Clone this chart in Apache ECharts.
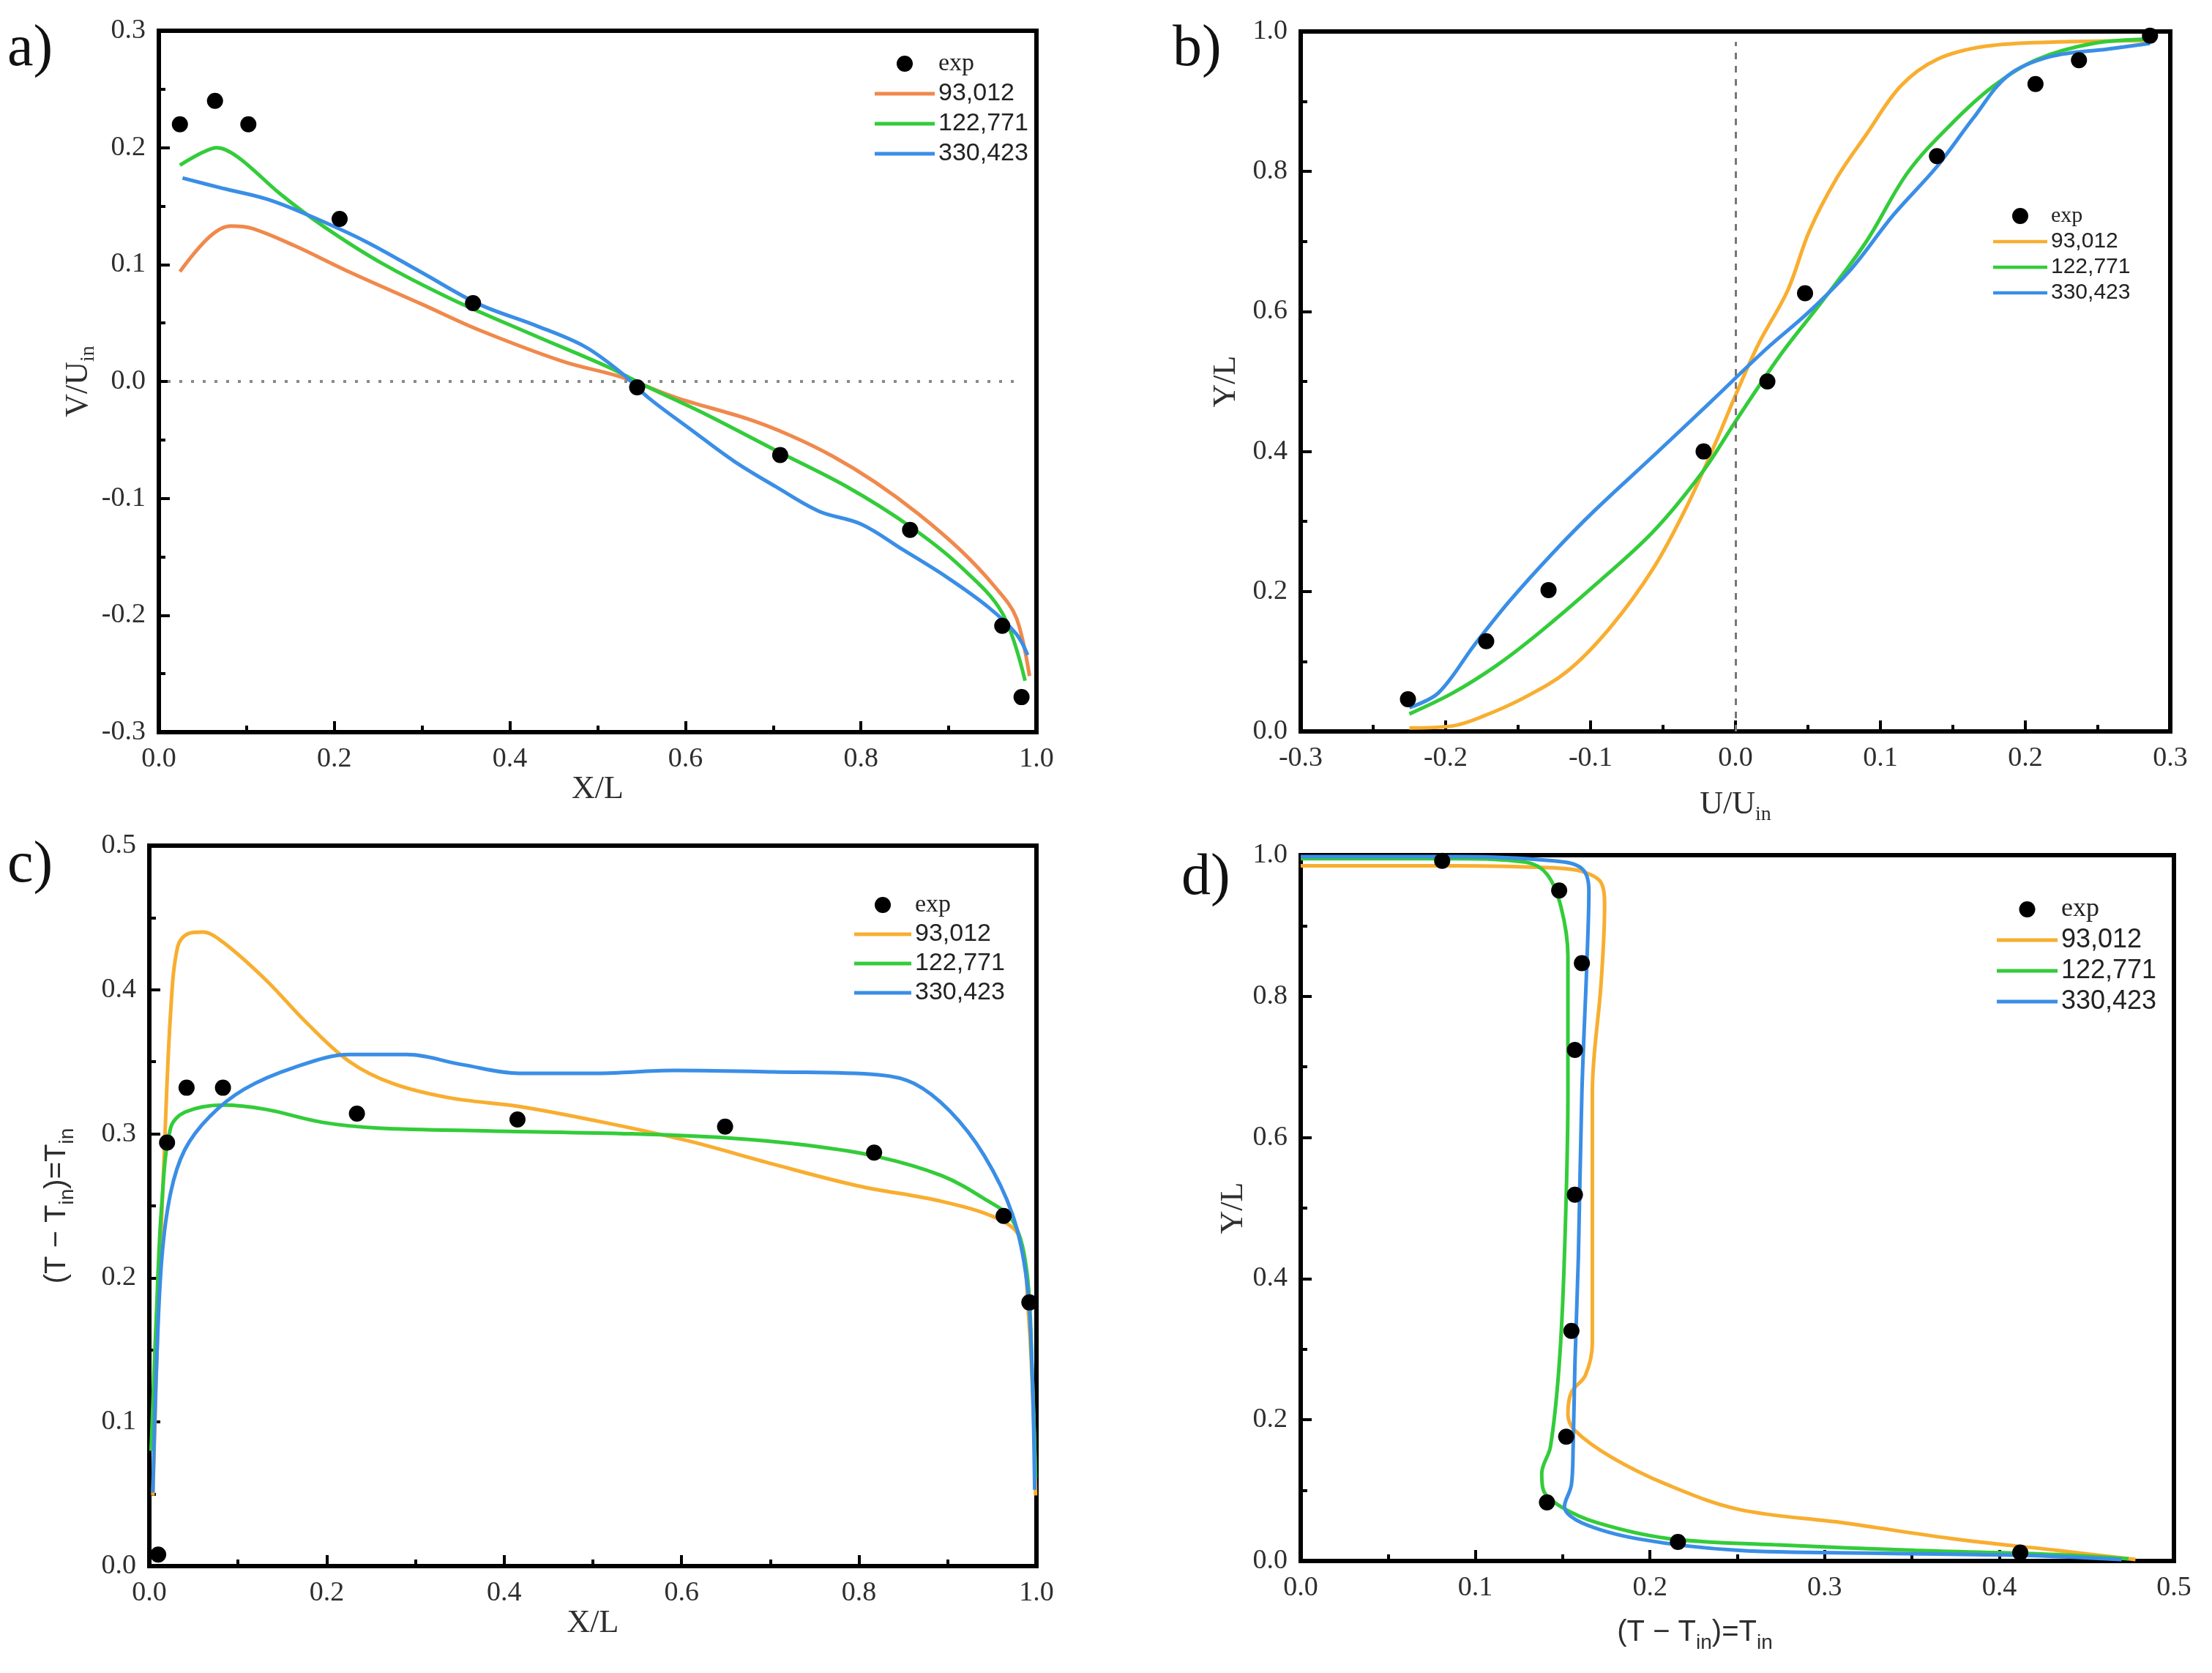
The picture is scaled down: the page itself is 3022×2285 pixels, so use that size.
<!DOCTYPE html>
<html>
<head>
<meta charset="utf-8">
<script src="https://cdn.jsdelivr.net/npm/echarts@6/dist/echarts.min.js"></script>
<style>html,body{margin:0;padding:0;background:#fff}#c{width:3022px;height:2285px}</style>
</head>
<body>
<div id="c"></div>
<script>
// ---------- Panel a: V/Uin vs X/L ----------
const aExp = [[0.024,0.22],[0.064,0.24],[0.102,0.22],[0.206,0.139],[0.358,0.067],[0.545,-0.005],[0.708,-0.063],[0.856,-0.127],[0.961,-0.209],[0.983,-0.27]];
const a93012 = [[0.024,0.094],[0.058,0.124],[0.082,0.133],[0.106,0.131],[0.155,0.116],[0.219,0.093],[0.3,0.066],[0.365,0.044],[0.461,0.017],[0.526,0.004],[0.59,-0.014],[0.671,-0.032],[0.719,-0.046],[0.768,-0.064],[0.816,-0.086],[0.865,-0.113],[0.913,-0.144],[0.953,-0.176],[0.977,-0.202],[0.992,-0.252]];
const a122771 = [[0.024,0.185],[0.05,0.196],[0.066,0.2],[0.09,0.192],[0.139,0.16],[0.187,0.133],[0.252,0.102],[0.332,0.071],[0.429,0.039],[0.51,0.013],[0.558,-0.005],[0.623,-0.028],[0.703,-0.059],[0.784,-0.09],[0.856,-0.124],[0.913,-0.158],[0.961,-0.198],[0.987,-0.256]];
const a330423 = [[0.027,0.174],[0.074,0.165],[0.123,0.156],[0.171,0.142],[0.235,0.12],[0.3,0.093],[0.365,0.066],[0.429,0.048],[0.485,0.03],[0.526,0.008],[0.558,-0.014],[0.606,-0.041],[0.655,-0.068],[0.703,-0.09],[0.752,-0.111],[0.8,-0.122],[0.848,-0.144],[0.897,-0.167],[0.945,-0.193],[0.977,-0.216],[0.99,-0.234]];

// ---------- Panel b: Y/L vs U/Uin ----------
const bExp = [[-0.226,0.046],[-0.172,0.129],[-0.129,0.202],[-0.022,0.4],[0.022,0.5],[0.048,0.626],[0.139,0.822],[0.207,0.925],[0.237,0.959],[0.286,0.994]];
const b93012 = [[-0.225,0.005],[-0.195,0.008],[-0.175,0.021],[-0.146,0.048],[-0.116,0.086],[-0.087,0.147],[-0.057,0.232],[-0.033,0.324],[-0.013,0.416],[0.001,0.485],[0.016,0.554],[0.036,0.63],[0.051,0.715],[0.07,0.791],[0.09,0.852],[0.114,0.922],[0.139,0.96],[0.173,0.979],[0.222,0.985],[0.286,0.987]];
const b122771 = [[-0.225,0.025],[-0.195,0.055],[-0.165,0.094],[-0.136,0.14],[-0.097,0.209],[-0.057,0.285],[-0.023,0.37],[0.001,0.446],[0.031,0.538],[0.06,0.615],[0.09,0.699],[0.119,0.799],[0.149,0.868],[0.178,0.922],[0.208,0.96],[0.247,0.983],[0.286,0.989]];
const b330423 = [[-0.225,0.034],[-0.205,0.055],[-0.18,0.124],[-0.156,0.186],[-0.126,0.255],[-0.097,0.316],[-0.057,0.393],[-0.018,0.469],[0.021,0.546],[0.051,0.6],[0.08,0.661],[0.109,0.738],[0.139,0.807],[0.164,0.876],[0.188,0.937],[0.217,0.964],[0.257,0.975],[0.286,0.983]];

// ---------- Panel c: (T-Tin)/Tin vs X/L ----------
const cExp = [[0.01,0.008],[0.02,0.294],[0.042,0.332],[0.083,0.332],[0.234,0.314],[0.415,0.31],[0.649,0.305],[0.817,0.287],[0.963,0.243],[0.992,0.183]];
const c93012 = [[0.004,0.049],[0.01,0.175],[0.017,0.289],[0.024,0.384],[0.032,0.43],[0.044,0.439],[0.06,0.44],[0.083,0.433],[0.131,0.407],[0.179,0.376],[0.226,0.35],[0.274,0.335],[0.338,0.325],[0.417,0.319],[0.512,0.308],[0.608,0.295],[0.703,0.279],[0.798,0.264],[0.894,0.253],[0.957,0.241],[0.981,0.228],[0.991,0.175],[0.997,0.099],[0.999,0.049]];
const c122771 = [[0.002,0.08],[0.008,0.175],[0.014,0.251],[0.024,0.304],[0.04,0.315],[0.083,0.32],[0.131,0.317],[0.195,0.308],[0.258,0.304],[0.385,0.302],[0.544,0.3],[0.655,0.297],[0.742,0.292],[0.822,0.284],[0.893,0.271],[0.941,0.255],[0.973,0.24],[0.989,0.205],[0.995,0.137],[0.999,0.061]];
const c330423 = [[0.004,0.051],[0.008,0.137],[0.014,0.213],[0.024,0.259],[0.04,0.289],[0.068,0.312],[0.107,0.331],[0.163,0.346],[0.226,0.355],[0.29,0.355],[0.353,0.348],[0.417,0.342],[0.504,0.342],[0.592,0.344],[0.703,0.343],[0.822,0.341],[0.862,0.335],[0.902,0.316],[0.941,0.285],[0.973,0.244],[0.989,0.198],[0.995,0.137],[0.998,0.053]];

// ---------- Panel d: Y/L vs (T-Tin)/Tin ----------
const dExp = [[0.081,0.992],[0.148,0.95],[0.161,0.847],[0.157,0.724],[0.157,0.519],[0.155,0.326],[0.152,0.176],[0.141,0.083],[0.216,0.027],[0.412,0.012]];
const d93012 = [[0,0.985],[0.088,0.985],[0.145,0.982],[0.161,0.977],[0.172,0.961],[0.174,0.927],[0.172,0.819],[0.167,0.664],[0.167,0.432],[0.167,0.309],[0.163,0.263],[0.155,0.239],[0.153,0.208],[0.157,0.185],[0.178,0.147],[0.21,0.108],[0.251,0.073],[0.311,0.054],[0.372,0.032],[0.433,0.015],[0.478,0.002]];
const d122771 = [[0,0.995],[0.088,0.995],[0.129,0.99],[0.141,0.973],[0.149,0.927],[0.153,0.857],[0.153,0.664],[0.151,0.432],[0.148,0.278],[0.143,0.162],[0.138,0.124],[0.139,0.1],[0.149,0.077],[0.17,0.054],[0.21,0.032],[0.271,0.023],[0.352,0.015],[0.433,0.009],[0.474,0.003]];
const d330423 = [[0,0.998],[0.088,0.998],[0.145,0.992],[0.161,0.981],[0.165,0.95],[0.164,0.857],[0.161,0.664],[0.159,0.432],[0.157,0.278],[0.156,0.162],[0.155,0.108],[0.151,0.077],[0.161,0.054],[0.194,0.031],[0.251,0.015],[0.332,0.011],[0.413,0.008],[0.47,0.002]];

const seriesNames = ['exp','93,012','122,771','330,423'];
const panelLetters = ['a)','b)','c)','d)'];

const SERIF = 'Liberation Serif';
const SANS = 'Liberation Sans';
const LBL = '#2e2e2e';

function valAxis(gi, min, max, interval, extra) {
  return Object.assign({
    type: 'value', gridIndex: gi, min: min, max: max, interval: interval,
    splitLine: {show: false},
    axisLine: {show: true, onZero: false, lineStyle: {color: '#000', width: 6}},
    axisTick: {show: true, inside: true, length: 15, lineStyle: {color: '#000', width: 4}},
    minorTick: {show: true, splitNumber: 2, length: 9, lineStyle: {color: '#000', width: 4}},
    axisLabel: {fontFamily: SERIF, fontSize: 38, color: LBL, margin: 18, showMinLabel: true, showMaxLabel: true,
      formatter: v => v.toFixed(1)},
    nameLocation: 'middle'
  }, extra);
}

const subRich = (fam, big, small) => ({
  t: {fontFamily: fam, fontSize: big, color: LBL, lineHeight: 56},
  s: {fontFamily: fam, fontSize: small, color: LBL, lineHeight: 34, verticalAlign: 'bottom'}
});

function lineS(name, data, xi, color, extra) {
  return Object.assign({
    type: 'line', name: name, xAxisIndex: xi, yAxisIndex: xi, data: data,
    smooth: 0.35, symbol: 'none', lineStyle: {color: color, width: 5}, itemStyle: {color: color}, z: 3
  }, extra || {});
}
function expS(name, data, xi, extra) {
  return Object.assign({
    type: 'scatter', name: name, xAxisIndex: xi, yAxisIndex: xi, data: data,
    symbol: 'circle', symbolSize: 22, itemStyle: {color: '#000', opacity: 1}, z: 5
  }, extra || {});
}

const LINE_ICON = 'path://M0,0 L80,0 L80,5 L0,5 Z';

function legendFor(prefix, left, top, itemWidth, fontSize, gap) {
  return {
    orient: 'vertical', left: left, top: top, itemWidth: itemWidth, itemHeight: 22, itemGap: gap,
    data: seriesNames.map(n => n === 'exp'
      ? {name: prefix + ':' + n, icon: 'circle'}
      : {name: prefix + ':' + n, icon: LINE_ICON}),
    formatter: name => {
      const n = name.split(':')[1];
      return n === 'exp' ? '{s|exp}' : '{n|' + n + '}';
    },
    textStyle: {
      rich: {
        s: {fontFamily: SERIF, fontSize: fontSize, color: '#222', lineHeight: fontSize + 6},
        n: {fontFamily: SANS, fontSize: fontSize, color: '#222', lineHeight: fontSize + 6}
      }
    }
  };
}

const orangeA = '#F0894C', orangeB = '#F8AE30';
const green = '#33CC3A', blue = '#3A8EE6';

const option = {
  backgroundColor: '#fff',
  animation: false,
  grid: [
    {left: 217, top: 42, width: 1199, height: 958, show: true, borderColor: '#000', borderWidth: 6},
    {left: 1777, top: 43, width: 1188, height: 956, show: true, borderColor: '#000', borderWidth: 6},
    {left: 204, top: 1155, width: 1212, height: 984, show: true, borderColor: '#000', borderWidth: 6},
    {left: 1777, top: 1168, width: 1193, height: 964, show: true, borderColor: '#000', borderWidth: 6}
  ],
  xAxis: [
    valAxis(0, 0, 1, 0.2, {name: 'X/L', nameGap: 55, nameTextStyle: {fontFamily: SERIF, fontSize: 44, color: LBL}}),
    valAxis(1, -0.3, 0.3, 0.1, {name: '{t|U/U}{s|in}', nameGap: 72, nameTextStyle: {rich: subRich(SERIF, 44, 28)}}),
    valAxis(2, 0, 1, 0.2, {name: 'X/L', nameGap: 42, nameTextStyle: {fontFamily: SERIF, fontSize: 44, color: LBL}}),
    valAxis(3, 0, 0.5, 0.1, {name: '{t|(T − T}{s|in}{t|)=T}{s|in}', nameGap: 70,
      nameTextStyle: {padding: [0, 116, 0, 0], rich: subRich(SANS, 40, 28)}})
  ],
  yAxis: [
    valAxis(0, -0.3, 0.3, 0.1, {name: '{t|V/U}{s|in}', nameGap: 78, nameTextStyle: {rich: subRich(SERIF, 44, 28)}}),
    valAxis(1, 0, 1, 0.2, {name: 'Y/L', nameGap: 80, nameTextStyle: {fontFamily: SERIF, fontSize: 44, color: LBL}}),
    valAxis(2, 0, 0.5, 0.1, {name: '{t|(T − T}{s|in}{t|)=T}{s|in}', nameGap: 98, nameTextStyle: {rich: subRich(SANS, 40, 28)}}),
    valAxis(3, 0, 1, 0.2, {name: 'Y/L', nameGap: 66, nameTextStyle: {fontFamily: SERIF, fontSize: 44, color: LBL}})
  ],
  legend: [
    legendFor('a', 1190, 65, 82, 34, 7),
    legendFor('b', 2718, 275, 74, 30, 5),
    legendFor('c', 1162, 1214, 78, 34, 6),
    legendFor('d', 2723, 1219, 83, 36, 6)
  ],
  graphic: panelLetters.map((t, i) => ({
    type: 'text',
    left: [10, 1602, 10, 1614][i],
    top: [28, 28, 1143, 1160][i],
    style: {text: t, font: '80px "Liberation Serif"', fill: '#111'}
  })),
  series: [
    expS('a:exp', aExp, 0, {
      markLine: {silent: true, symbol: 'none', label: {show: false},
        lineStyle: {color: '#8a8a8a', width: 4, type: [4, 12]},
        data: [[{coord: [0.01, 0]}, {coord: [0.98, 0]}]]}
    }),
    lineS('a:93,012', a93012, 0, orangeA),
    lineS('a:122,771', a122771, 0, green),
    lineS('a:330,423', a330423, 0, blue),

    expS('b:exp', bExp, 1, {
      markLine: {silent: true, symbol: 'none', label: {show: false},
        lineStyle: {color: '#777', width: 3, type: [9, 9]},
        data: [[{coord: [0, 0]}, {coord: [0, 0.985]}]]}
    }),
    lineS('b:93,012', b93012, 1, orangeB),
    lineS('b:122,771', b122771, 1, green),
    lineS('b:330,423', b330423, 1, blue),

    expS('c:exp', cExp, 2),
    lineS('c:93,012', c93012, 2, orangeB),
    lineS('c:122,771', c122771, 2, green),
    lineS('c:330,423', c330423, 2, blue),

    expS('d:exp', dExp, 3),
    lineS('d:93,012', d93012, 3, orangeB),
    lineS('d:122,771', d122771, 3, green),
    lineS('d:330,423', d330423, 3, blue)
  ]
};

const chart = echarts.init(document.getElementById('c'), null, {renderer: 'canvas'});
chart.setOption(option);
</script>
</body>
</html>
